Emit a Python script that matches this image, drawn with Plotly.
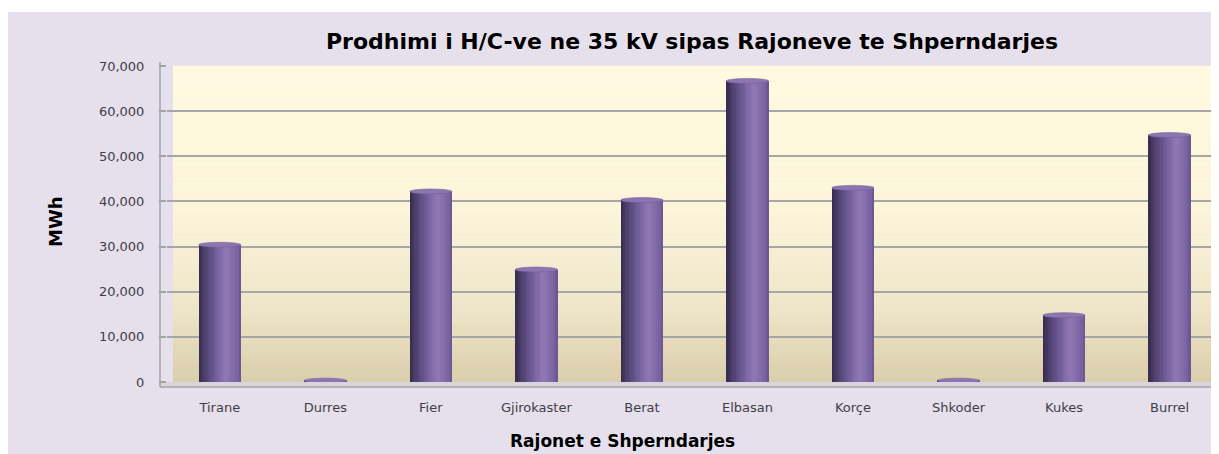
import plotly.graph_objects as go

categories = ["Tirane", "Durres", "Fier", "Gjirokaster", "Berat", "Elbasan",
              "Korçe", "Shkoder", "Kukes", "Burrel"]
values = [30400, 300, 42200, 24900, 40300, 66700, 43000, 300, 14800, 54700]
y_ticks = [0, 10000, 20000, 30000, 40000, 50000, 60000, 70000]

# page has an 8px body margin: work in window pixels, then shift
OX, OY = 8, 8
WW, WH = 1219, 454
W, H = WW - OX, WH - OY
PL, PR, PT, PB = 167, 1216, 66, 382   # plot area in window pixels
L, R, T, B = PL - OX, WW - PR, PT - OY, WH - PB
pw, ph = PR - PL, PB - PT


def px(x):
    return (x - PL) / pw


def py(y):
    return (PB - y) / ph


def hex2rgb(h):
    h = h.lstrip("#")
    return tuple(int(h[i:i + 2], 16) for i in (0, 2, 4))


def interp(stops, t):
    for (t0, c0), (t1, c1) in zip(stops, stops[1:]):
        if t0 <= t <= t1:
            f = (t - t0) / (t1 - t0) if t1 > t0 else 0
            a, b = hex2rgb(c0), hex2rgb(c1)
            return "rgb(%d,%d,%d)" % tuple(round(a[i] + (b[i] - a[i]) * f) for i in range(3))
    return stops[-1][1]


bar_stops = [(0.0, "#33294A"), (0.10, "#463A62"), (0.25, "#5D4C82"), (0.40, "#705D98"),
             (0.55, "#866EAC"), (0.66, "#9179B6"), (0.80, "#846CA8"), (0.92, "#7962A0"),
             (1.0, "#65528A")]
bg_stops = [(0.0, "#FFFAE0"), (0.45, "#FCF5DA"), (0.75, "#F0E7CA"), (1.0, "#DACDAA")]

fig = go.Figure()
bw = 0.4
N = 18
for i in range(N):
    fig.add_trace(go.Bar(
        x=categories, y=values,
        width=bw / N + 0.002, offset=-bw / 2 + i * bw / N,
        marker=dict(color=interp(bar_stops, (i + 0.5) / N), line=dict(width=0)),
        hoverinfo="skip", showlegend=False,
    ))

shapes = []
# lavender chart area
shapes.append(dict(type="rect", xref="paper", yref="paper", layer="below",
                   x0=px(6), x1=px(WW + 2), y0=py(WH + 2), y1=py(12),
                   fillcolor="#E6E0EC", line=dict(width=0)))
# gradient back wall
NB = 60
for k in range(NB):
    t = (k + 0.5) / NB
    shapes.append(dict(type="rect", xref="paper", yref="paper", layer="below",
                       x0=px(173), x1=px(1215), y0=1 - (k + 1) / NB, y1=1 - k / NB + 0.001,
                       fillcolor=interp(bg_stops, t), line=dict(width=0)))
# floor strip
shapes.append(dict(type="rect", xref="paper", yref="paper", layer="below",
                   x0=px(160), x1=px(1217), y0=py(387), y1=py(382),
                   fillcolor="#D8D3DC", line=dict(width=0)))
shapes.append(dict(type="line", xref="paper", yref="paper", layer="above",
                   x0=px(160), x1=px(1217), y0=py(387), y1=py(387),
                   line=dict(color="#A3A3A3", width=1.5)))
# front left axis line
shapes.append(dict(type="line", xref="paper", yref="paper", layer="above",
                   x0=px(160), x1=px(160), y0=py(387), y1=py(62),
                   line=dict(color="#A3A3A3", width=1.5)))
# cylinder caps
cap_h = 5 / ph * 70000
for i, v in enumerate(values):
    shapes.append(dict(type="circle", xref="x", yref="y", layer="above",
                       x0=i - bw / 2, x1=i + bw / 2, y0=v - cap_h / 2, y1=v + cap_h / 2,
                       fillcolor="#8C76B2", line=dict(color="#75609A", width=0.6)))

fig.update_layout(
    width=W, height=H,
    margin=dict(l=L, r=R, t=T, b=B, pad=0),
    paper_bgcolor="white",
    plot_bgcolor="rgba(0,0,0,0)",
    barmode="overlay",
    bargap=0,
    shapes=shapes,
    title=dict(text="Prodhimi i H/C-ve ne 35 kV sipas Rajoneve te Shperndarjes",
               x=(692 - OX) / W, xanchor="center", y=1 - (41 - OY) / H, yanchor="middle",
               font=dict(family="DejaVu Sans", size=22, color="#000000", weight="bold")),
    font=dict(family="DejaVu Sans", size=13, color="#3E3E48"),
    xaxis=dict(range=[-0.5, 9.44], showgrid=False, zeroline=False, showline=False,
               ticks="", tickfont=dict(family="DejaVu Sans", size=13, color="#3E3E48"),
               ticklabelstandoff=16),
    yaxis=dict(range=[0, 70000], tickvals=y_ticks, tickformat=",",
               showgrid=True, gridcolor="#A6A6A6", gridwidth=1.5, zeroline=False,
               showline=False, ticks="outside", ticklen=7, tickcolor="#A3A3A3", tickwidth=1.5,
               ticklabelstandoff=12,
               tickfont=dict(family="DejaVu Sans", size=13, color="#3E3E48")),
    annotations=[
        dict(text="<b>MWh</b>", xref="paper", yref="paper", x=px(55), y=py(222),
             xanchor="center", yanchor="middle", textangle=-90, showarrow=False,
             font=dict(family="DejaVu Sans", size=18, color="#000000")),
        dict(text="<b>Rajonet e Shperndarjes</b>", xref="paper", yref="paper",
             x=px(622), y=py(441), xanchor="center", yanchor="middle",
             showarrow=False, font=dict(family="DejaVu Sans", size=17, color="#000000")),
    ],
)

fig.write_html("out.html")
